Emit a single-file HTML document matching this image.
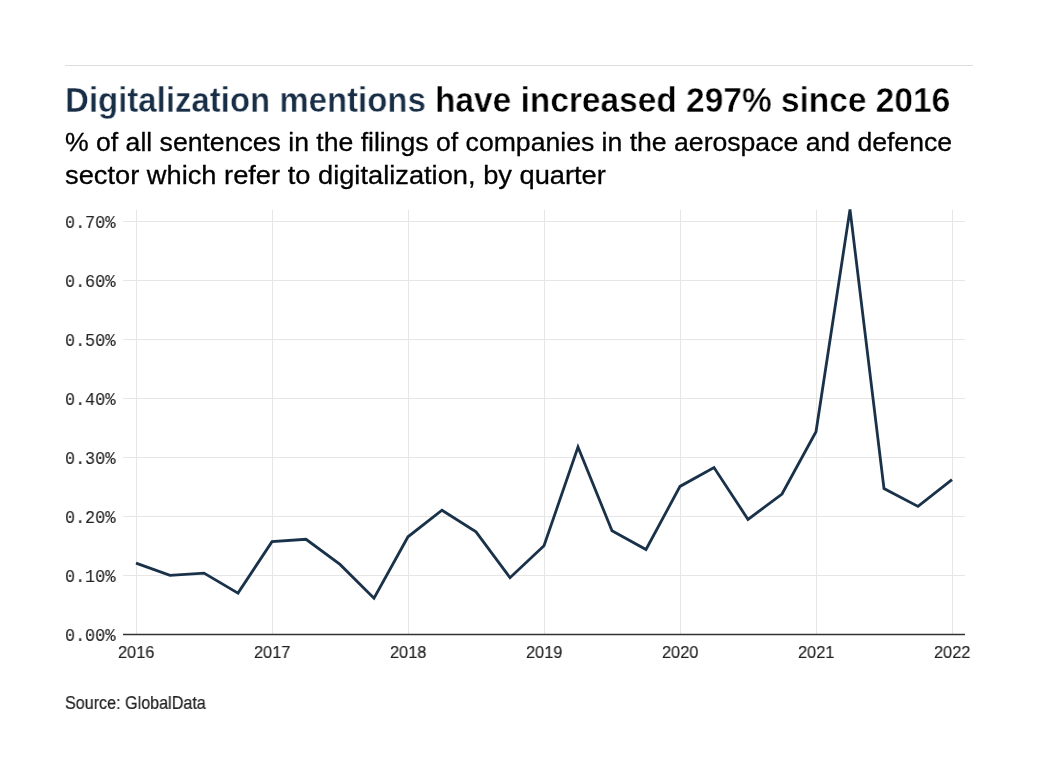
<!DOCTYPE html>
<html>
<head>
<meta charset="utf-8">
<style>
html,body{margin:0;padding:0;background:#fff;}
body{-webkit-font-smoothing:antialiased;width:1038px;height:778px;position:relative;overflow:hidden;font-family:"Liberation Sans",sans-serif;}
.t{will-change:transform;position:absolute;white-space:nowrap;line-height:1;transform-origin:0 0;}
#rule{position:absolute;left:65px;top:65px;width:908px;height:1px;background:#dcdcdc;}
#title1{left:65px;top:82.7px;transform:scaleX(0.9536);font-size:34.6px;font-weight:bold;color:#172e46;-webkit-text-stroke:0.4px #fff;}
#title2{left:434.9px;top:82.7px;transform:scaleX(0.9675);font-size:34.6px;font-weight:bold;color:#000;-webkit-text-stroke:0.4px #fff;}
#sub1{left:65.1px;top:129px;transform:scaleX(1.0113);font-size:26.3px;color:#000;-webkit-text-stroke:0.3px #000;}
#sub2{left:65.1px;top:162.4px;transform:scaleX(1.0365);font-size:26.3px;color:#000;-webkit-text-stroke:0.3px #000;}
.yl{will-change:transform;position:absolute;left:65px;transform:scaleX(0.92);font-family:"Liberation Mono",monospace;font-size:18.2px;color:#222;line-height:1;white-space:nowrap;transform-origin:0 0;-webkit-text-stroke:0.08px #222;}
.xl{will-change:transform;position:absolute;top:644px;transform:scaleX(0.949);transform-origin:50% 0;font-size:17.3px;color:#222;-webkit-text-stroke:0.15px #222;line-height:1;white-space:nowrap;}
#src{left:64.5px;top:693.5px;transform:scaleX(0.877);font-size:18.4px;color:#222;-webkit-text-stroke:0.2px #222;}
svg{position:absolute;left:0;top:0;}
</style>
</head>
<body>
<div id="rule"></div>
<div class="t" id="title1">Digitalization mentions</div>
<div class="t" id="title2">have increased 297% since 2016</div>
<div class="t" id="sub1">% of all sentences in the filings of companies in the aerospace and defence</div>
<div class="t" id="sub2">sector which refer to digitalization, by quarter</div>

<svg width="1038" height="778" viewBox="0 0 1038 778">
<g stroke="#e6e6e6" stroke-width="1" fill="none">
<line x1="123" y1="221.5" x2="965" y2="221.5"/>
<line x1="123" y1="280.5" x2="965" y2="280.5"/>
<line x1="123" y1="339.5" x2="965" y2="339.5"/>
<line x1="123" y1="398.5" x2="965" y2="398.5"/>
<line x1="123" y1="457.5" x2="965" y2="457.5"/>
<line x1="123" y1="516.5" x2="965" y2="516.5"/>
<line x1="123" y1="575.5" x2="965" y2="575.5"/>
<line x1="136.5" y1="210" x2="136.5" y2="634"/>
<line x1="272.5" y1="210" x2="272.5" y2="634"/>
<line x1="408.5" y1="210" x2="408.5" y2="634"/>
<line x1="544.5" y1="210" x2="544.5" y2="634"/>
<line x1="680.5" y1="210" x2="680.5" y2="634"/>
<line x1="816.5" y1="210" x2="816.5" y2="634"/>
<line x1="952.5" y1="210" x2="952.5" y2="634"/>
</g>
<line x1="123" y1="634.5" x2="965" y2="634.5" stroke="#333" stroke-width="1.3"/>
<polyline fill="none" stroke="#1a3249" stroke-width="2.8" stroke-linejoin="miter" points="136,563.1 170,575.3 204,573.1 238,593.1 272,541.7 306,539.3 340,564.4 374,598.3 408,536.8 442,510.2 476,531.8 510,577.7 544,545.8 578,447.0 612,530.8 646,549.5 680,486.4 714,467.6 748,519.4 782,494.0 816,431.7 850,209.4 884,488.6 918,506.4 952,479.7"/>
</svg>

<div class="yl" id="y7" style="top:213.7px">0.70%</div>
<div class="yl" style="top:272.7px">0.60%</div>
<div class="yl" style="top:331.7px">0.50%</div>
<div class="yl" style="top:390.7px">0.40%</div>
<div class="yl" style="top:449.7px">0.30%</div>
<div class="yl" style="top:508.7px">0.20%</div>
<div class="yl" style="top:567.7px">0.10%</div>
<div class="yl" id="y0" style="top:626.7px">0.00%</div>

<div class="xl" id="x0" style="left:116.6px">2016</div>
<div class="xl" style="left:252.6px">2017</div>
<div class="xl" style="left:388.6px">2018</div>
<div class="xl" style="left:524.6px">2019</div>
<div class="xl" style="left:660.6px">2020</div>
<div class="xl" style="left:796.6px">2021</div>
<div class="xl" id="x6" style="left:932.6px">2022</div>

<div class="t" id="src">Source: GlobalData</div>
</body>
</html>
